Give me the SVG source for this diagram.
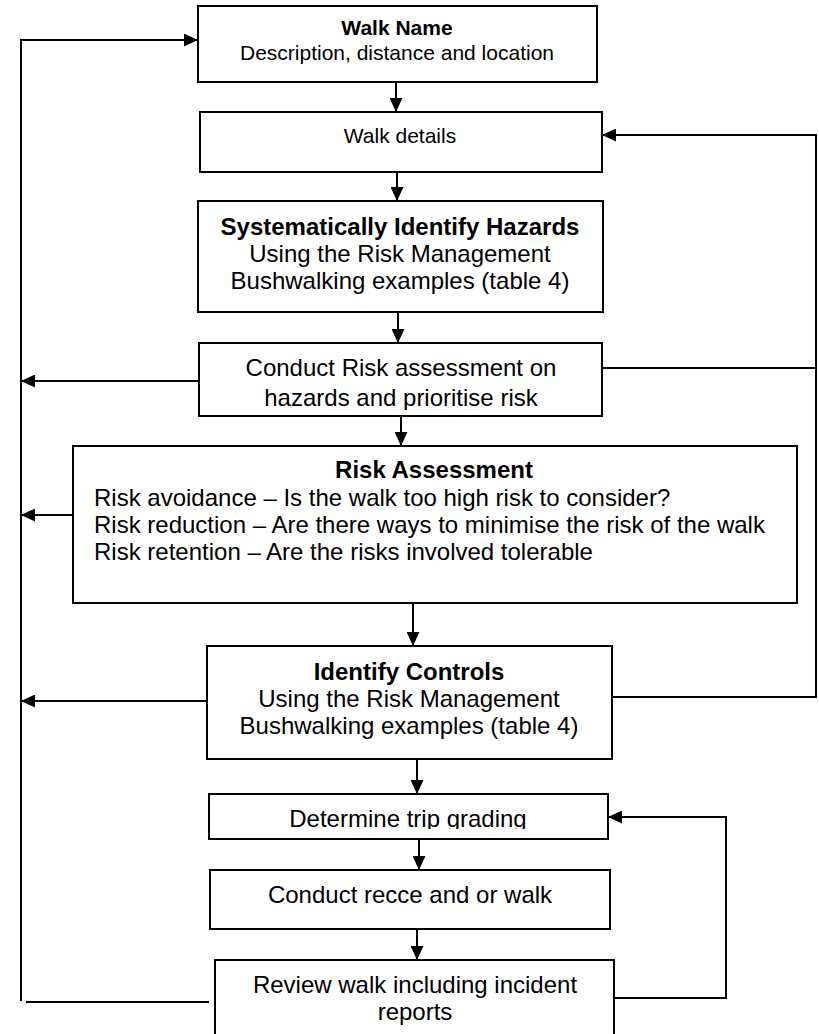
<svg xmlns="http://www.w3.org/2000/svg" width="819" height="1034" viewBox="0 0 819 1034">
<style>
.box{fill:#fff;stroke:#000;stroke-width:2}
.t{font-family:"Liberation Sans",Arial,sans-serif;font-size:24px;fill:#000;text-anchor:middle}
.s{font-size:21px}
.b{font-weight:bold}
.l{text-anchor:start}
.c{fill:none;stroke:#000;stroke-width:2}
</style>
<defs>
<marker id="ah" markerUnits="userSpaceOnUse" markerWidth="15" markerHeight="13" refX="14" refY="6.5" orient="auto">
<path d="M0,0 L14,6.5 L0,13 z" fill="#000"/>
</marker>
<clipPath id="clipConduct"><rect x="199" y="343" width="403" height="67"/></clipPath>
<clipPath id="clipGrade"><rect x="209" y="794" width="399" height="35"/></clipPath>
</defs>
<rect width="819" height="1034" fill="#fff"/>

<g id="walk-name">
<rect class="box" x="198" y="6" width="399" height="76"/>
<text class="t s b" x="397" y="35">Walk Name</text>
<text class="t s" x="397" y="60">Description, distance and location</text>
</g>

<g id="walk-details">
<rect class="box" x="200" y="112" width="402" height="60"/>
<text class="t s" x="400" y="143">Walk details</text>
</g>

<g id="identify-hazards">
<rect class="box" x="198" y="201" width="405" height="111"/>
<text class="t b" x="400" y="235">Systematically Identify Hazards</text>
<text class="t" x="400" y="262">Using the Risk Management</text>
<text class="t" x="400" y="289">Bushwalking examples (table 4)</text>
</g>

<g id="conduct-risk">
<rect class="box" x="199" y="343" width="403" height="73"/>
<g clip-path="url(#clipConduct)">
<text class="t" x="401" y="376">Conduct Risk assessment on</text>
<text class="t" x="401" y="406">hazards and prioritise risk</text>
</g>
</g>

<g id="risk-assessment">
<rect class="box" x="73" y="446" width="724" height="157"/>
<text class="t b" x="434" y="478">Risk Assessment</text>
<text class="t l" x="94" y="506">Risk avoidance – Is the walk too high risk to consider?</text>
<text class="t l" x="94" y="533">Risk reduction – Are there ways to minimise the risk of the walk</text>
<text class="t l" x="94" y="560">Risk retention – Are the risks involved tolerable</text>
</g>

<g id="identify-controls">
<rect class="box" x="207" y="646" width="405" height="113"/>
<text class="t b" x="409" y="680">Identify Controls</text>
<text class="t" x="409" y="707">Using the Risk Management</text>
<text class="t" x="409" y="734">Bushwalking examples (table 4)</text>
</g>

<g id="trip-grading">
<rect class="box" x="209" y="794" width="399" height="45"/>
<g clip-path="url(#clipGrade)">
<text class="t" x="408" y="827">Determine trip grading</text>
</g>
</g>

<g id="recce">
<rect class="box" x="210" y="870" width="400" height="59"/>
<text class="t" x="410" y="903">Conduct recce and or walk</text>
</g>

<g id="review">
<path class="box" d="M215,1036 L215,960 L614,960 L614,1036"/>
<text class="t" x="415" y="993">Review walk including incident</text>
<text class="t" x="415" y="1020">reports</text>
</g>

<g id="connectors">
<line class="c" x1="396" y1="82" x2="396" y2="112" marker-end="url(#ah)"/>
<line class="c" x1="397" y1="172" x2="397" y2="201" marker-end="url(#ah)"/>
<line class="c" x1="398" y1="312" x2="398" y2="343" marker-end="url(#ah)"/>
<line class="c" x1="401" y1="416" x2="401" y2="446" marker-end="url(#ah)"/>
<line class="c" x1="413" y1="603" x2="413" y2="646" marker-end="url(#ah)"/>
<line class="c" x1="417" y1="759" x2="417" y2="794" marker-end="url(#ah)"/>
<line class="c" x1="419" y1="839" x2="419" y2="870" marker-end="url(#ah)"/>
<line class="c" x1="417" y1="929" x2="417" y2="960" marker-end="url(#ah)"/>

<polyline class="c" points="21,1001 21,40 198,40" marker-end="url(#ah)"/>
<line class="c" x1="26" y1="1002" x2="209" y2="1002"/>
<line class="c" x1="199" y1="381" x2="21" y2="381" marker-end="url(#ah)"/>
<line class="c" x1="73" y1="515" x2="21" y2="515" marker-end="url(#ah)"/>
<line class="c" x1="207" y1="701" x2="21" y2="701" marker-end="url(#ah)"/>

<line class="c" x1="602" y1="368" x2="816" y2="368"/>
<polyline class="c" points="612,697 816,697 816,135 602,135" marker-end="url(#ah)"/>

<polyline class="c" points="614,998 726,998 726,817 608,817" marker-end="url(#ah)"/>
</g>
</svg>
